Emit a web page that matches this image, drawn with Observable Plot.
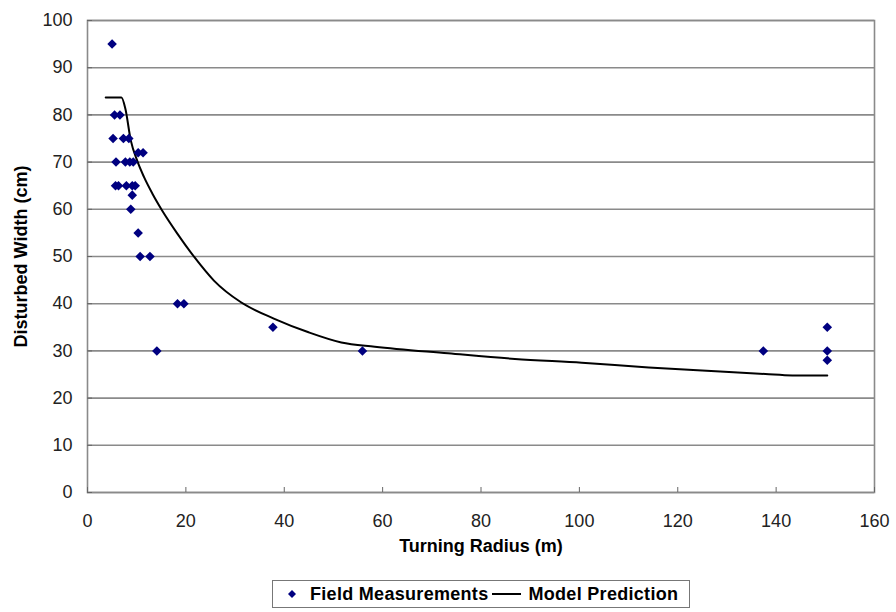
<!DOCTYPE html>
<html>
<head>
<meta charset="utf-8">
<script src="https://cdn.jsdelivr.net/npm/d3@7"></script>
<script src="https://cdn.jsdelivr.net/npm/@observablehq/plot@0.6"></script>
<style>
  body { margin: 0; background: #fff; font-family: "Liberation Sans", Arial, sans-serif; }
  #chart { width: 896px; }
  #legend {
    position: absolute; left: 272px; top: 580px; width: 416px; height: 26px;
    border: 1px solid #777; display: flex; align-items: center;
    font-weight: bold; font-size: 18px; letter-spacing: 0.3px; color: #000; box-sizing: content-box;
  }
  #legend .item { display: flex; align-items: center; }
</style>
</head>
<body>
<div id="chart"></div>
<div id="legend">
  <span class="item" style="margin-left:14px">
    <svg width="10" height="10"><path d="M5,1L9,5L5,9L1,5Z" fill="#000080"/></svg>
    <span style="margin-left:13px">Field Measurements</span>
  </span>
  <span class="item" style="margin-left:4px">
    <svg width="29" height="6"><line x1="0" y1="3" x2="29" y2="3" stroke="#000" stroke-width="2"/></svg>
    <span style="margin-left:7px">Model Prediction</span>
  </span>
</div>
<script>
// Field measurements
const measX = [5, 5.5, 6.6, 5.2, 7.3, 8.4, 10.3, 11.3, 5.8, 7.7, 8.6, 9.3, 5.7, 6.3, 7.9, 9.1, 9.7, 9.1, 8.8, 10.3, 10.7, 12.7, 18.3, 19.6, 14.1, 37.7, 55.9, 137.4, 150.4, 150.4, 150.4];
const measY = [95, 80, 80, 75, 75, 75, 72, 72, 70, 70, 70, 70, 65, 65, 65, 65, 65, 63, 60, 55, 50, 50, 40, 40, 30, 35, 30, 30, 35, 30, 28];

// Model prediction curve
const modelX = [3.7, 6.9, 7.7, 8.8, 10.1, 11.5, 13.2, 15.2, 18.3, 21.7, 25.7, 31.2, 38, 44.8, 51.6, 58.4, 73.3, 86.9, 100.5, 114.1, 127.7, 137.8, 143.3, 150.4];
const modelY = [83.7, 83.7, 81.3, 74.6, 70.3, 66.8, 63.3, 59.7, 54.8, 49.9, 44.9, 40.3, 36.8, 34, 31.8, 30.9, 29.5, 28.3, 27.5, 26.5, 25.7, 25.1, 24.8, 24.8];

const xTicks = [0, 20, 40, 60, 80, 100, 120, 140, 160];
const yTicks = [0, 10, 20, 30, 40, 50, 60, 70, 80, 90, 100];
const xLabel = "Turning Radius (m)";
const yLabel = "Disturbed Width (cm)";

const meas = measX.map((x, i) => ({x, y: measY[i]}));
const model = modelX.map((x, i) => ({x, y: modelY[i]}));

const chart = Plot.plot({
  width: 896,
  height: 575,
  marginLeft: 87,
  marginRight: 22,
  marginTop: 20,
  marginBottom: 83,
  style: { fontFamily: "'Liberation Sans', Arial, sans-serif", fontSize: "18px", color: "#000", background: "#fff" },
  x: { domain: [0, 160] },
  y: { domain: [0, 100] },
  marks: [
    Plot.gridY(yTicks, { stroke: "#8a8a8a", strokeOpacity: 1, strokeWidth: 1.6 }),
    Plot.frame({ stroke: "#8a8a8a", strokeWidth: 1.6 }),
    Plot.axisX({ ticks: xTicks, tickSize: -5, tickPadding: 27, label: null, stroke: "#666", fill: "#222" }),
    Plot.axisY({ ticks: yTicks, tickSize: -5, tickPadding: 20, label: null, stroke: "#666", fill: "#222" }),
    Plot.line(model, { x: "x", y: "y", stroke: "#000", strokeWidth: 2, curve: "monotone-x" }),
    Plot.dot(meas, { x: "x", y: "y", symbol: "diamond2", r: 4.3, fill: "#000080", stroke: "none" }),
    Plot.text([xLabel], { frameAnchor: "bottom", dy: 59, text: d => d, fontWeight: "bold", fontSize: 18, fill: "#000" }),
    Plot.text([yLabel], { frameAnchor: "left", textAnchor: "middle", dx: -66, rotate: -90, text: d => d, fontWeight: "bold", fontSize: 18, fill: "#000" })
  ]
});
document.getElementById("chart").appendChild(chart);
</script>
</body>
</html>
